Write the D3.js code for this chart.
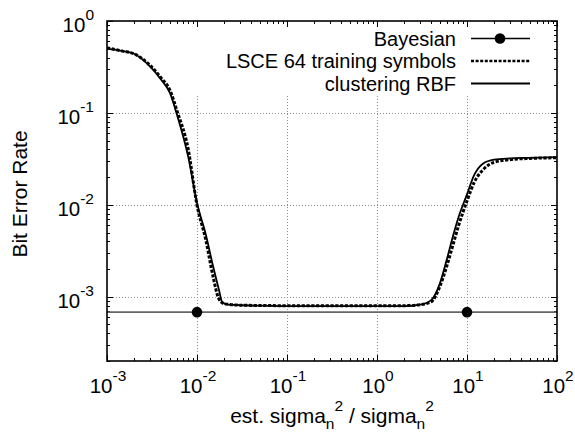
<!DOCTYPE html>
<html>
<head>
<meta charset="utf-8">
<script src="https://cdn.jsdelivr.net/npm/d3@7"></script>
<style>
  body { margin: 0; background: #fff; }
  text { font-family: "Liberation Sans", Arial, Helvetica, sans-serif; fill: #000; }
</style>
</head>
<body>
<script>
const width = 575, height = 434;
const margin = {left: 107, right: 18, top: 21, bottom: 73};

// x = est. sigma_n^2 / sigma_n^2, y = bit error rate
const lsceX = [0.001, 0.0015, 0.002, 0.003, 0.004, 0.005, 0.006, 0.008, 0.01, 0.0125, 0.015, 0.0175,
  0.02, 0.03, 0.1, 1, 2, 3, 4, 5, 6, 7, 8, 10, 12, 15, 20, 30, 50, 100];
const lsceY = [0.51, 0.47, 0.44, 0.33, 0.24, 0.177, 0.105, 0.04, 0.0099, 0.0042, 0.0017, 0.00095,
  0.00084, 0.00081, 0.0008, 0.0008, 0.0008, 0.00082, 0.00088, 0.0013, 0.0022, 0.0037, 0.0058, 0.011,
  0.0175, 0.024, 0.029, 0.031, 0.032, 0.0325];

const rbfX = [0.001, 0.0015, 0.002, 0.003, 0.004, 0.005, 0.006, 0.008, 0.01, 0.0125, 0.015, 0.0175,
  0.019, 0.022, 0.1, 1, 2, 3, 4, 5, 6, 7, 8, 10, 12, 15, 20, 30, 50, 100];
const rbfY = [0.5, 0.47, 0.44, 0.32, 0.23, 0.165, 0.095, 0.033, 0.0105, 0.0048, 0.0022, 0.0012,
  0.00088, 0.00082, 0.00079, 0.00079, 0.00079, 0.00082, 0.00092, 0.0014, 0.0026, 0.0046, 0.0072, 0.013,
  0.021, 0.028, 0.031, 0.032, 0.0325, 0.033];

const bayesBer = 0.00068;
const bayesPointsX = [0.01, 10];

const xDecades = [-3, -2, -1, 0, 1, 2];
const yDecades = [0, -1, -2, -3];
const legendLabels = ["Bayesian", "LSCE 64 training symbols", "clustering RBF"];

const svg = d3.select("body").append("svg")
  .attr("width", width)
  .attr("height", height);

const x = d3.scaleLog().domain([1e-3, 1e2]).range([margin.left, width - margin.right]);
const y = d3.scaleLog().domain([2e-4, 1]).range([height - margin.bottom, margin.top]);

const x0 = x.range()[0], x1 = x.range()[1];
const y0 = y.range()[0], y1 = y.range()[1];

// grid
const grid = svg.append("g")
  .attr("stroke", "#8c8c8c")
  .attr("stroke-width", 1)
  .attr("stroke-dasharray", "1,2");

grid.selectAll(".gx")
  .data(xDecades.slice(1, -1))
  .enter().append("line")
    .attr("x1", d => Math.round(x(Math.pow(10, d))) + 0.5)
    .attr("x2", d => Math.round(x(Math.pow(10, d))) + 0.5)
    .attr("y1", y0)
    .attr("y2", y1);

grid.selectAll(".gy")
  .data(yDecades.slice(1))
  .enter().append("line")
    .attr("x1", x0)
    .attr("x2", x1)
    .attr("y1", d => Math.round(y(Math.pow(10, d))) + 0.5)
    .attr("y2", d => Math.round(y(Math.pow(10, d))) + 0.5);

// legend background hides the grid behind it
svg.append("rect")
  .attr("x", 188).attr("y", y1)
  .attr("width", x1 - 188).attr("height", 73)
  .attr("fill", "#fff");

// ticks, mirrored on all four sides
const xMinor = x.ticks(), yMinor = y.ticks();
const isDecade = v => Math.abs(Math.log10(v) - Math.round(Math.log10(v))) < 1e-6;
const ticks = svg.append("g").attr("stroke", "#000").attr("stroke-width", 1);

xMinor.forEach(v => {
  const len = isDecade(v) ? 6 : 3;
  const px = Math.round(x(v)) + 0.5;
  ticks.append("line").attr("x1", px).attr("x2", px).attr("y1", y0).attr("y2", y0 - len);
  ticks.append("line").attr("x1", px).attr("x2", px).attr("y1", y1).attr("y2", y1 + len);
});
yMinor.forEach(v => {
  const len = isDecade(v) ? 6 : 3;
  const py = Math.round(y(v)) + 0.5;
  ticks.append("line").attr("x1", x0).attr("x2", x0 + len).attr("y1", py).attr("y2", py);
  ticks.append("line").attr("x1", x1).attr("x2", x1 - len).attr("y1", py).attr("y2", py);
});

// curves
const line = d3.line()
  .x(d => x(d[0]))
  .y(d => y(d[1]))
  .curve(d3.curveMonotoneX);

svg.append("clipPath").attr("id", "clip")
  .append("rect").attr("x", x0).attr("y", y1).attr("width", x1 - x0).attr("height", y0 - y1);

const plot = svg.append("g").attr("clip-path", "url(#clip)");

plot.append("line")
  .attr("x1", x0).attr("x2", x1)
  .attr("y1", y(bayesBer)).attr("y2", y(bayesBer))
  .attr("stroke", "#666").attr("stroke-width", 1.6);

plot.append("path")
  .attr("d", line(d3.zip(rbfX, rbfY)))
  .attr("fill", "none")
  .attr("stroke", "#000")
  .attr("stroke-width", 1.8);

plot.append("path")
  .attr("d", line(d3.zip(lsceX, lsceY)))
  .attr("fill", "none")
  .attr("stroke", "#000")
  .attr("stroke-width", 3)
  .attr("stroke-dasharray", "3.2,1.6");

svg.selectAll(".bayes")
  .data(bayesPointsX)
  .enter().append("circle")
    .attr("cx", d => x(d))
    .attr("cy", y(bayesBer))
    .attr("r", 5.3)
    .attr("fill", "#000");

// frame
svg.append("rect")
  .attr("x", x0).attr("y", y1)
  .attr("width", x1 - x0).attr("height", y0 - y1)
  .attr("fill", "none")
  .attr("stroke", "#000")
  .attr("stroke-width", 1.6);

// tick labels
function power(sel, e) {
  sel.append("tspan").text("10");
  sel.append("tspan").attr("dy", -12).attr("font-size", 15.5).text(e);
}

svg.selectAll(".xl")
  .data(xDecades)
  .enter().append("text")
    .attr("x", d => x(Math.pow(10, d)) + 1)
    .attr("y", 392.5)
    .attr("text-anchor", "middle")
    .attr("font-size", 20.5)
    .each(function(d) { power(d3.select(this), d); });

svg.selectAll(".yl")
  .data(yDecades)
  .enter().append("text")
    .attr("x", 94)
    .attr("y", d => y(Math.pow(10, d)) + 11)
    .attr("text-anchor", "end")
    .attr("font-size", 20.5)
    .each(function(d) { power(d3.select(this), d); });

// axis titles
svg.append("text")
  .attr("transform", "translate(27," + ((y0 + y1) / 2 + 3) + ") rotate(-90)")
  .attr("text-anchor", "middle")
  .attr("font-size", 21)
  .text("Bit Error Rate");

const xt = svg.append("text")
  .attr("x", (x0 + x1) / 2)
  .attr("y", 423)
  .attr("text-anchor", "middle")
  .attr("font-size", 21);
xt.append("tspan").text("est. sigma");
xt.append("tspan").attr("dy", 6).attr("font-size", 15.5).text("n");
xt.append("tspan").attr("dy", -18).attr("font-size", 15.5).text("2");
xt.append("tspan").attr("dy", 12).text(" / sigma");
xt.append("tspan").attr("dy", 6).attr("font-size", 15.5).text("n");
xt.append("tspan").attr("dy", -18).attr("font-size", 15.5).text("2");

// legend
const legendRowY = [38.5, 61, 83.5];
const lg = svg.append("g");
legendLabels.forEach((label, i) => {
  lg.append("text")
    .attr("x", 456)
    .attr("y", legendRowY[i] + 7)
    .attr("text-anchor", "end")
    .attr("font-size", 20)
    .text(label);
  const s = lg.append("line")
    .attr("x1", 471).attr("x2", 530)
    .attr("y1", legendRowY[i]).attr("y2", legendRowY[i])
    .attr("stroke", "#000");
  if (i === 0) s.attr("stroke-width", 1.3);
  if (i === 1) s.attr("stroke-width", 2.5).attr("stroke-dasharray", "3,1.6");
  if (i === 2) s.attr("stroke-width", 1.8);
});
lg.append("circle").attr("cx", 500).attr("cy", legendRowY[0]).attr("r", 5.3).attr("fill", "#000");
</script>
</body>
</html>
